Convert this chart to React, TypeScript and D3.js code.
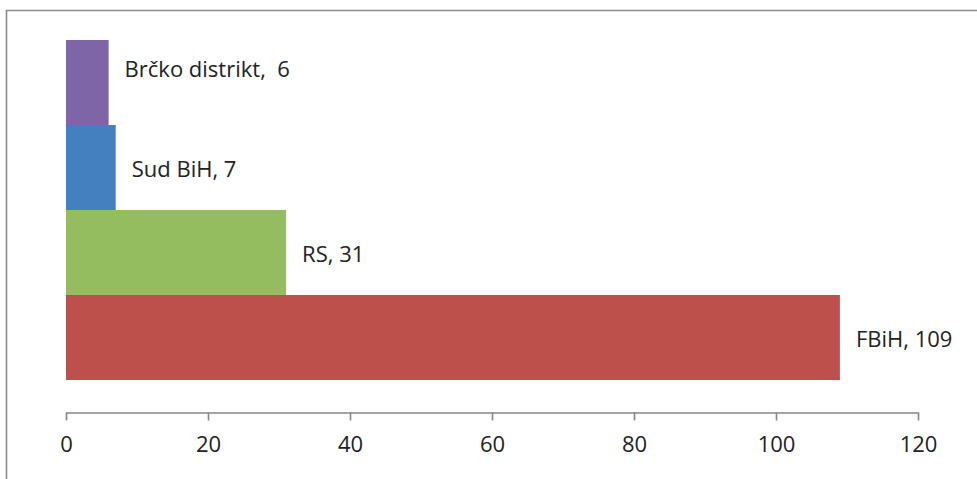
import { useEffect, useRef } from "react"
import * as d3 from "d3"

const categories = ["FBiH", "RS", "Sud BiH", "Brčko distrikt,"]
const values = [109, 31, 7, 6]
const labelTexts = ["FBiH, 109", "RS, 31", "Sud BiH, 7", "Brčko distrikt,  6"]
const colors = ["#BE504C", "#93BD5E", "#4480C0", "#7E65A8"]
const xTicks = [0, 20, 40, 60, 80, 100, 120]

export default function App() {
  const ref = useRef<SVGSVGElement | null>(null)

  useEffect(() => {
    const svg = d3.select(ref.current)
    svg.selectAll("*").remove()

    const width = 977
    const height = 479
    const font = "'Open Sans', 'Noto Sans', sans-serif"

    svg.attr("width", width).attr("height", height)

    // outer chart frame (cut by the page at right and bottom)
    svg.append("path")
      .attr("d", `M6.5,${height} V10.5 H${width}`)
      .attr("fill", "none")
      .attr("stroke", "#8a8a8a")
      .attr("stroke-width", 1.6)

    const x = d3.scaleLinear().domain([0, 120]).range([66, 918])
    const y = d3.scaleBand()
      .domain(categories)
      .range([380, 40])
      .padding(0)

    const g = svg.append("g")

    g.selectAll("rect")
      .data(values)
      .enter()
      .append("rect")
      .attr("x", x(0))
      .attr("y", (_, i) => y(categories[i])!)
      .attr("width", d => x(d) - x(0))
      .attr("height", y.bandwidth())
      .attr("fill", (_, i) => colors[i])

    g.selectAll("text.lbl")
      .data(values)
      .enter()
      .append("text")
      .attr("class", "lbl")
      .attr("x", d => x(d) + 16)
      .attr("y", (_, i) => y(categories[i])! + y.bandwidth() / 2 + (i === 3 ? -13 : 2))
      .attr("dy", "0.35em")
      .attr("font-family", font)
      .attr("font-size", 22)
      .attr("fill", "#222")
      .style("white-space", "pre")
      .text((_, i) => labelTexts[i])

    const axisY = 412.5
    const axis = svg.append("g")
      .attr("transform", `translate(0,${axisY})`)
      .call(d3.axisBottom(x).tickValues(xTicks).tickSize(8).tickSizeOuter(0).tickPadding(16))

    axis.select(".domain").attr("stroke", "#868686").attr("stroke-width", 1.6)
    axis.selectAll(".tick line").attr("stroke", "#868686").attr("stroke-width", 1.6)
    axis.selectAll(".tick text")
      .attr("font-family", font)
      .attr("font-size", 22)
      .attr("fill", "#222")
  }, [])

  return (
    <svg
      ref={ref}
      style={{ position: "absolute", left: 0, top: 0, display: "block", background: "#fff" }}
    />
  )
}
